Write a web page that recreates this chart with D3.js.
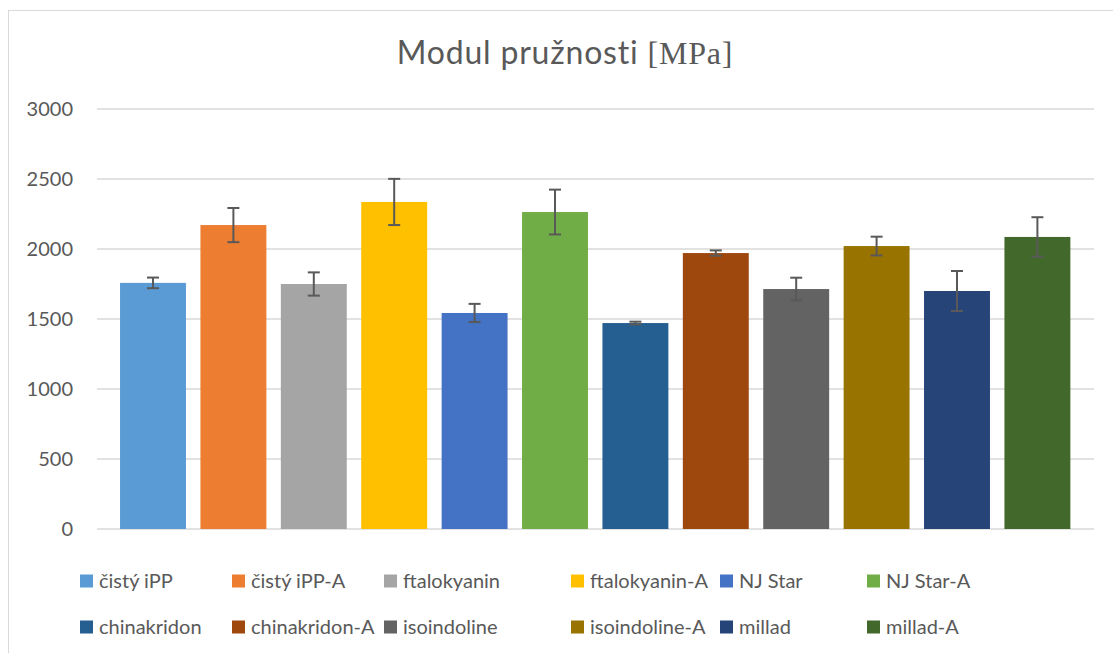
<!DOCTYPE html>
<html><head><meta charset="utf-8">
<script src="https://cdn.jsdelivr.net/npm/d3@7"></script>
<style>body{margin:0;background:#fff}svg{display:block}</style>
</head><body>
<svg id="c" width="1113" height="653"></svg>
<script>
const categories = ["čistý iPP","čistý iPP-A","ftalokyanin","ftalokyanin-A","NJ Star","NJ Star-A","chinakridon","chinakridon-A","isoindoline","isoindoline-A","millad","millad-A"];
const values = [1758, 2171, 1750, 2336, 1543, 2264, 1471, 1971, 1714, 2021, 1700, 2086];
const errors = [38, 122, 83, 165, 65, 160, 10, 19, 81, 67, 143, 141];
const colors = ["#5B9BD5","#ED7D31","#A5A5A5","#FFC000","#4472C4","#70AD47","#255E91","#9E480E","#636363","#997300","#264478","#43682B"];
const yTicks = [0, 500, 1000, 1500, 2000, 2500, 3000];
const title = "Modul pružnosti ";
const titleUnit = "[MPa]";

const svg = d3.select("#c");
const font = "Lato, 'Open Sans', sans-serif";
const txt = "#595959";

svg.append("rect").attr("x",8.5).attr("y",10.5).attr("width",1200).attr("height",800)
  .attr("fill","#fff").attr("stroke","#d9d9d9").attr("stroke-width",1);

const y = d3.scaleLinear().domain([0,3000]).range([529,109]);
const x = d3.scaleBand().domain(categories).range([112.8,1077.6]).paddingInner(0.18).paddingOuter(0.09);
const gridX0 = 97, gridX1 = 1094;

const yAxis = d3.axisLeft(y).tickValues(yTicks).tickFormat(d3.format("d")).tickSize(0).tickPadding(0);
const g = svg.append("g").attr("transform","translate(73,0)").call(yAxis);
g.select(".domain").remove();
g.selectAll("text").attr("font-family",font).attr("font-size",20).attr("fill",txt);

svg.append("g").selectAll("line").data(yTicks).join("line")
  .attr("x1",gridX0).attr("x2",gridX1).attr("y1",d=>y(d)).attr("y2",d=>y(d))
  .attr("stroke","#d9d9d9").attr("stroke-width",1.5);

svg.append("g").selectAll("rect").data(categories).join("rect")
  .attr("x",d=>x(d)).attr("width",x.bandwidth())
  .attr("y",(d,i)=>y(values[i])).attr("height",(d,i)=>y(0)-y(values[i]))
  .attr("fill",(d,i)=>colors[i]);

const eg = svg.append("g").attr("stroke","#595959").attr("stroke-width",2);
categories.forEach((c,i)=>{
  const cx = x(c)+x.bandwidth()/2;
  const t = y(values[i]+errors[i]), b = y(values[i]-errors[i]);
  eg.append("line").attr("x1",cx).attr("x2",cx).attr("y1",t).attr("y2",b);
  eg.append("line").attr("x1",cx-6).attr("x2",cx+6).attr("y1",t).attr("y2",t);
  eg.append("line").attr("x1",cx-6).attr("x2",cx+6).attr("y1",b).attr("y2",b);
});

const tt = svg.append("text").attr("x",565).attr("y",64).attr("text-anchor","middle")
  .attr("font-family",font).attr("font-size",32).attr("letter-spacing",0.8).attr("fill",txt);
tt.append("tspan").text(title);
tt.append("tspan").attr("font-family","'Liberation Serif','DejaVu Serif',serif").text(titleUnit);

const legX = [80, 232, 384, 571, 720, 867];
const legY = [581, 627];
const lg = svg.append("g");
categories.forEach((c,i)=>{
  const col = i % 6, row = Math.floor(i/6);
  lg.append("rect").attr("x",legX[col]).attr("y",legY[row]-6.5).attr("width",13).attr("height",13).attr("fill",colors[i]);
  lg.append("text").attr("x",legX[col]+19).attr("y",legY[row]).attr("dy","0.35em")
    .attr("font-family",font).attr("font-size",20).attr("fill",txt).text(c);
});
</script>
</body></html>
